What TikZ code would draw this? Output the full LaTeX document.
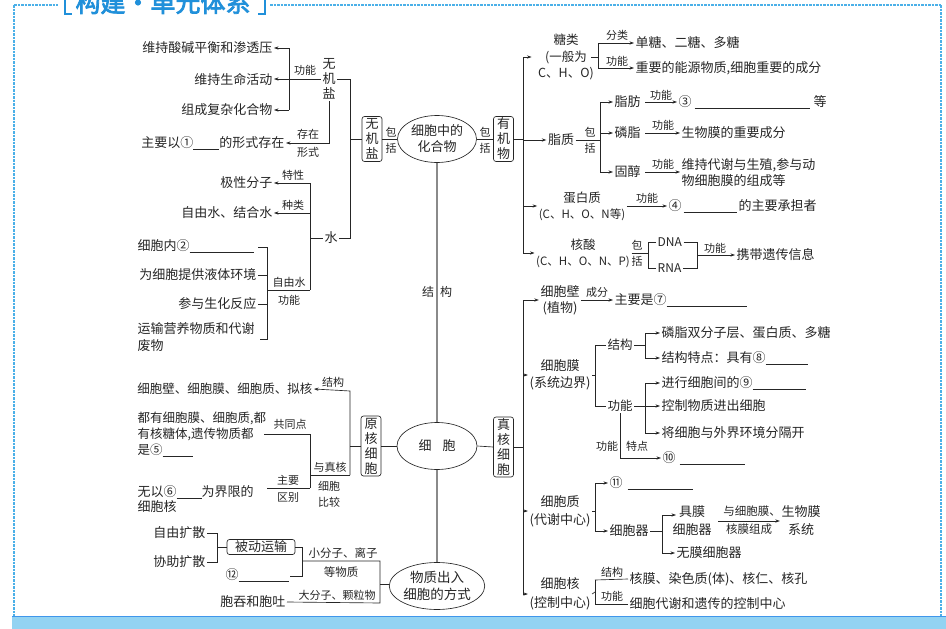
\documentclass[tikz,border=0pt]{standalone}
\usepackage{fontspec}
\setmainfont{Noto Sans CJK SC}
\newfontfamily\titlefont{Noto Sans CJK SC}[FakeBold=3]
\usetikzlibrary{arrows.meta,shapes.geometric}
\definecolor{ink}{HTML}{262626}
\definecolor{frameblue}{HTML}{4BB0E8}
\definecolor{titleblue}{HTML}{2090DA}
\definecolor{bandblue}{HTML}{93D3F2}
\definecolor{axisgray}{HTML}{8A8A8A}
\newcommand\myfs[2]{\fontsize{#1}{#2}\selectfont}
\newcommand\blk[1]{\rule[-2.5pt]{#1pt}{0.55pt}}
\tikzset{
  every node/.style={inner sep=1.5pt, text=ink, font=\myfs{13}{16}},
  sm/.style={font=\myfs{11}{13}},
  vlab/.style={font=\myfs{11}{16}, align=center},
  stk/.style={align=center},
  box/.style={draw=ink, rounded corners=2.5pt, line width=0.65pt, minimum width=20pt, align=center, inner sep=1pt, font=\myfs{13}{15}},
  ell/.style={ellipse, draw=ink, line width=0.65pt, minimum width=79pt, minimum height=47pt, align=center, inner sep=0pt},
  ln/.style={draw=ink, line width=0.65pt},
  ar/.style={ln, -{Stealth[length=4.5pt,width=3.2pt]}},
  axis/.style={draw=axisgray, line width=1.5pt},
  frm/.style={draw=frameblue, line width=1.5pt, dash pattern=on 2.5pt off 1pt},
}
\begin{document}
\begin{tikzpicture}[x=1pt,y=-1pt]
\useasboundingbox (0,0) rectangle (946,629);
\clip (0,0) rectangle (946,629);
\fill[white] (0,0) rectangle (946,629);
% ---------- frame ----------
\draw[frm] (14,5) -- (58,5);
\draw[frm] (270,5) -- (941,5);
\draw[frm] (14,5) -- (14,617);
\draw[frm] (941,5) -- (941,617);
\fill[bandblue] (12,616) rectangle (946,629);
\draw[draw=frameblue!85!blue, line width=1pt] (12,616.5) -- (946,616.5);
\node[font=\titlefont\myfs{25}{25}, text=titleblue, anchor=base, inner sep=0] (title) at (163,12) {构建·单元体系};
\draw[titleblue, line width=2.2pt] (65,-4) -- (65,14) -- (72,14);
\draw[titleblue, line width=2.2pt] (265,-4) -- (265,14) -- (258,14);

% ---------- centre column ----------
\node[ell] (e1) at (437,139) {细胞中的\\化合物};
\node[ell, minimum width=80pt] (e2) at (437,446) {细\hspace{11pt}胞};
\node[ell, font=\myfs{13.5}{17}] (e3) at (437,586) {物质出入\\细胞的方式};
\draw[axis] (e1.south) -- (e2.north);
\draw[axis] (e2.south) -- (e3.north);
\node[font=\myfs{12}{14}] (jga) at (428,292) {结};
\node[font=\myfs{12}{14}] (jgb) at (446,292) {构};

\node[box, minimum height=45pt] (wjb) at (372,139) {无\\机\\盐};
\node[box, minimum height=45pt] (yjw) at (503.5,139) {有\\机\\物};
\node[vlab] (bk1) at (391,140) {包\\括};
\node[vlab] (bk2) at (485,140) {包\\括};
\draw[ln] (wjb.east) -- (e1.west);
\draw[ln] (e1.east) -- (yjw.west);

\node[box, minimum height=60pt] (yh) at (371,446) {原\\核\\细\\胞};
\node[box, minimum height=60pt] (zh) at (503.5,447) {真\\核\\细\\胞};
\draw[ln] (e2.west) -- (yh.east);
\draw[ln] (e2.east) -- (zh.west);

% ---------- inorganic salts ----------
\node[anchor=east] (t1) at (274,48) {维持酸碱平衡和渗透压};
\node[anchor=east] (t2) at (274,79) {维持生命活动};
\node[anchor=east] (t3) at (274,110) {组成复杂化合物};
\node[anchor=east] (t4) at (286,143) {主要以①\blk{26}的形式存在};
\node[align=center, font=\myfs{13}{15}] (wjy) at (329,79) {无\\机\\盐};
\node[sm] (gn1) at (305,70) {功能};
\node[sm] (cz1) at (308,134) {存在};
\node[sm] (xs1) at (308,152) {形式};
\coordinate (j1) at (289,79);
\draw[ln] (wjy.west) -- (j1);
\draw[ln] (289,48) -- (289,110);
\draw[ar] (289,48) -- (t1.east);
\draw[ar] (j1) -- (t2.east);
\draw[ar] (289,110) -- (t3.east);
\draw[ar] (wjy.south) |- (t4.east);
\node (shui) at (331,238) {水};
\draw[ln] (wjy.east) -- (350,79) -- (350,238) -- (shui.east);
\draw[ln] (wjb.west) -- (350,139);

% ---------- water ----------
\node[anchor=east] (w1) at (274,183) {极性分子};
\node[anchor=east] (w2) at (274,213) {自由水、结合水};
\node[sm] (tx1) at (293,175) {特性};
\node[sm] (zl1) at (293,205) {种类};
\draw[ln] (310,183) -- (310,290);
\draw[ar] (310,183) -- (w1.east);
\draw[ar] (310,213) -- (w2.east);
\draw[ln] (310,238) -- (shui.west);
\node[anchor=west] (f1) at (136,246) {细胞内②\blk{64}};
\node[anchor=east] (f2) at (258,275) {为细胞提供液体环境};
\node[anchor=east] (f3) at (258,304) {参与生化反应};
\node[anchor=north west, align=left, font=\myfs{13}{17}] (f4) at (136,321) {运输营养物质和代谢\\废物};
\draw[ln] (258,247) -- (267,247) -- (267,339) -- (260,339);
\draw[ln] (f2.east) -- (267,275);
\draw[ln] (f3.east) -- (267,304);
\draw[ln] (267,290) -- (310,290);
\node[sm] (zys) at (289,282) {自由水};
\node[sm] (gn0) at (289,300) {功能};

% ---------- prokaryote ----------
\node[anchor=east, font=\myfs{12.5}{16}] (p1) at (314,389) {细胞壁、细胞膜、细胞质、拟核};
\node[sm] (jg1) at (333,382) {结构};
\node[anchor=west, align=left, font=\myfs{12.5}{16}] (p2) at (136,434) {都有细胞膜、细胞质,都\\有核糖体,遗传物质都\\是⑤\blk{30}};
\node[anchor=west, align=left, font=\myfs{13}{15}] (p3) at (136,499) {无以⑥\blk{25}为界限的\\细胞核};
\draw[ar] (350,475) -- (350,391) -- (p1.east);
\draw[ln] (yh.west) -- (350,446);
\draw[ln] (310,475) -- (350,475);
\draw[ln] (310,434) -- (310,488);
\draw[ln] (264,434) -- (310,434);
\draw[ln] (267,488) -- (310,488);
\node[sm] (gtd) at (290,424) {共同点};
\node[sm] (zy) at (288,480) {主要};
\node[sm] (qb) at (288,497) {区别};
\node[sm] (yzh) at (330,467) {与真核};
\node[sm, align=center, font=\myfs{11}{16}] (xbbj) at (329,494) {细胞\\比较};

% ---------- transport ----------
\node[anchor=east] (b1) at (207,533) {自由扩散};
\node[anchor=east] (b2) at (207,562) {协助扩散};
\node[box, minimum width=68pt, minimum height=15pt] (bd) at (261,547) {被动运输};
\node[anchor=west] (b3) at (224,575) {⑫\blk{50}};
\node[anchor=east] (b4) at (287,602) {胞吞和胞吐};
\draw[ln] (b1.east) -- (217,533) -- (217,562) -- (b2.east);
\draw[ln] (217,547) -- (bd.west);
\draw[ln] (bd.east) -- (302,547) -- (302,576) -- (290,576);
\draw[ln] (302,561) -- (380,561) -- (380,603) -- (b4.east);
\draw[ln] (380,584) -- (e3.west |- 0,584);
\node[font=\myfs{11.5}{13}] (xfz) at (343,553) {小分子、离子};
\node[font=\myfs{11.5}{13}] (dwz) at (341,572) {等物质};
\node[font=\myfs{11}{13}] (dfz) at (337,595) {大分子、颗粒物};

% ---------- organic ----------
\draw[ln] (yjw.east) -- (523,139);
\draw[ln] (523,57) -- (523,253);
\node[align=center, font=\myfs{12.5}{16.5}] (tl) at (566,57) {糖类\\(一般为\\C、H、O)};
\draw[ar] (523,57) -- ([xshift=-5pt]tl.west);
\draw[ln] (591,57) -- (598,57);
\draw[ln] (598,43) -- (598,68);
\node[anchor=west] (tl1) at (634,43) {单糖、二糖、多糖};
\node[anchor=west] (tl2) at (634,68) {重要的能源物质,细胞重要的成分};
\draw[ar] (598,43) -- (tl1.west);
\draw[ar] (598,68) -- (tl2.west);
\node[sm] (fl) at (617,35) {分类};
\node[sm] (gn3) at (617,61) {功能};

\node (zz) at (561,140) {脂质};
\draw[ar] (523,140) -- (zz.west);
\node[vlab] (bk3) at (590,140) {包\\括};
\draw[ln] (zz.east) -- (600,140);
\draw[ln] (600,102) -- (600,172);
\node[anchor=west] (zf) at (613,102) {脂肪};
\node[anchor=west] (lz) at (613,133) {磷脂};
\node[anchor=west] (gc) at (613,172) {固醇};
\draw[ar] (600,102) -- (zf.west);
\draw[ar] (600,133) -- (lz.west);
\draw[ar] (600,172) -- (gc.west);
\node[anchor=west] (n3) at (677,102) {③\hspace{3pt}\blk{115}\hspace{4pt}等};
\node[anchor=west] (lzf) at (680,133) {生物膜的重要成分};
\node[anchor=west, align=left, font=\myfs{13}{16}] (gcf) at (680,173) {维持代谢与生殖,参与动\\物细胞膜的组成等};
\draw[ar] ([xshift=3pt]zf.east) -- (n3.west);
\draw[ar] ([xshift=3pt]lz.east) -- (lzf.west);
\draw[ar] ([xshift=3pt]gc.east) -- (gc.east -| gcf.west);
\node[sm] (gn4) at (661,95) {功能};
\node[sm] (gn5) at (663,125) {功能};
\node[sm] (gn6) at (663,164) {功能};

\node[align=center, font=\myfs{12.5}{16}] (dbz) at (582,206) {蛋白质\\{\myfs{11.5}{16}(C、H、O、N等)}};
\draw[ar] (523,206) -- (dbz.west);
\node[anchor=west] (n4) at (667,206) {④\hspace{2pt}\blk{53}\hspace{2pt}的主要承担者};
\draw[ar] (dbz.east) -- (n4.west);
\node[sm] (gn7) at (647,198) {功能};

\node[align=center, font=\myfs{12.5}{16}] (hs) at (583,253) {核酸\\{\myfs{11.5}{16}(C、H、O、N、P)}};
\draw[ar] (523,253) -- (hs.west);
\node[vlab] (bk4) at (637,253) {包\\括};
\draw[ln] (hs.east) -- (648,253);
\node[anchor=west, font=\myfs{12}{14}] (dna) at (656,242) {DNA};
\node[anchor=west, font=\myfs{12}{14}] (rna) at (656,268) {RNA};
\draw[ln] (dna.west) -- (648,242) -- (648,268) -- (rna.west);
\draw[ln] (dna.east) -- (697,242) -- (697,268) -- (rna.east);
\node[anchor=west] (xd) at (735,255) {携带遗传信息};
\draw[ar] (697,255) -- (xd.west);
\node[sm] (gn8) at (715,248) {功能};

% ---------- eukaryote ----------
\draw[ln] (zh.east) -- (523,447);
\draw[ln] (523,300) -- (523,594);
\node[align=center] (xbb) at (560,300) {细胞壁\\(植物)};
\draw[ar] (523,300) -- (xbb.west);
\node[anchor=west] (n7) at (613,300) {主要是⑦\blk{80}};
\draw[ar] (xbb.east) -- (n7.west);
\node[sm] (cf) at (597,292) {成分};

\node[align=center, font=\myfs{13}{17}] (xbm) at (560,375) {细胞膜\\(系统边界)};
\draw[ar] (523,375) -- (xbm.west);
\draw[ln] (xbm.east) -- (595,375);
\draw[ln] (595,345) -- (595,406);
\node[anchor=west, font=\myfs{12.5}{14}] (jg2) at (606,345) {结构};
\node[anchor=west, font=\myfs{12.5}{14}] (gn2) at (606,406) {功能};
\draw[ln] (595,345) -- (jg2.west);
\draw[ln] (595,406) -- (gn2.west);
\draw[ln] (jg2.east) -- (645,345);
\draw[ln] (gn2.east) -- (645,406);
\draw[ln] (645,333) -- (645,358);
\draw[ln] (645,383) -- (645,433);
\node[anchor=west] (m1) at (660,333) {磷脂双分子层、蛋白质、多糖};
\node[anchor=west] (m2) at (660,358) {结构特点：具有⑧\blk{42}};
\node[anchor=west] (m3) at (660,383) {进行细胞间的⑨\blk{53}};
\node[anchor=west] (m4) at (660,406) {控制物质进出细胞};
\node[anchor=west] (m5) at (660,433) {将细胞与外界环境分隔开};
\draw[ar] (645,333) -- (m1.west);
\draw[ar] (645,358) -- (m2.west);
\draw[ar] (645,383) -- (m3.west);
\draw[ar] (645,406) -- (m4.west);
\draw[ar] (645,433) -- (m5.west);
\node[anchor=west] (n10) at (661,458) {⑩\hspace{4pt}\blk{65}};
\draw[ar] (gn2.south) |- (n10.west);
\node[sm] (gn9) at (607,446) {功能};
\node[sm] (td) at (637,446) {特点};

\node[align=center, font=\myfs{13}{18}] (xbz) at (560,511) {细胞质\\(代谢中心)};
\draw[ar] (523,511) -- (xbz.west);
\draw[ln] (xbz.east) -- (595,511);
\draw[ln] (595,483) -- (595,531);
\node[anchor=west] (n11) at (608,483) {⑪\hspace{5pt}\blk{65}};
\node[anchor=west] (xbq) at (608,531) {细胞器};
\draw[ar] (595,483) -- (n11.west);
\draw[ar] (595,531) -- (xbq.west);
\draw[ln] (xbq.east) -- (662,531);
\draw[ln] (662,515) -- (662,553);
\node[align=center, font=\myfs{13}{18}] (jm) at (692,521) {具膜\\细胞器};
\coordinate (jmt) at (676,515);
\draw[ar] (662,515) -- (jmt);
\node[anchor=west] (wm) at (675,553) {无膜细胞器};
\draw[ar] (662,553) -- (wm.west);
\node[align=center, font=\myfs{13}{18}] (swm) at (801,521) {生物膜\\系统};
\draw[ar] ([xshift=5pt]jm.east) -- (swm.west);
\node[font=\myfs{11.5}{13}] (yxbm) at (752,511) {与细胞膜、};
\node[font=\myfs{11.5}{13}] (hmzc) at (749,529) {核膜组成};

\node[align=center, font=\myfs{13}{19}] (xbh) at (560,594) {细胞核\\(控制中心)};
\draw[ar] (523,594) -- (xbh.west);
\draw[ln] (xbh.east) -- (595,592);
\draw[ln] (595,580) -- (595,604);
\node[anchor=west] (h1) at (628,579) {核膜、染色质(体)、核仁、核孔};
\node[anchor=west] (h2) at (628,604) {细胞代谢和遗传的控制中心};
\draw[ln] (595,580) -- (h1.west);
\draw[ln] (595,604) -- (h2.west);
\node[sm] (jg3) at (612,572) {结构};
\node[sm] (gn10) at (612,596) {功能};
\end{tikzpicture}
\end{document}
